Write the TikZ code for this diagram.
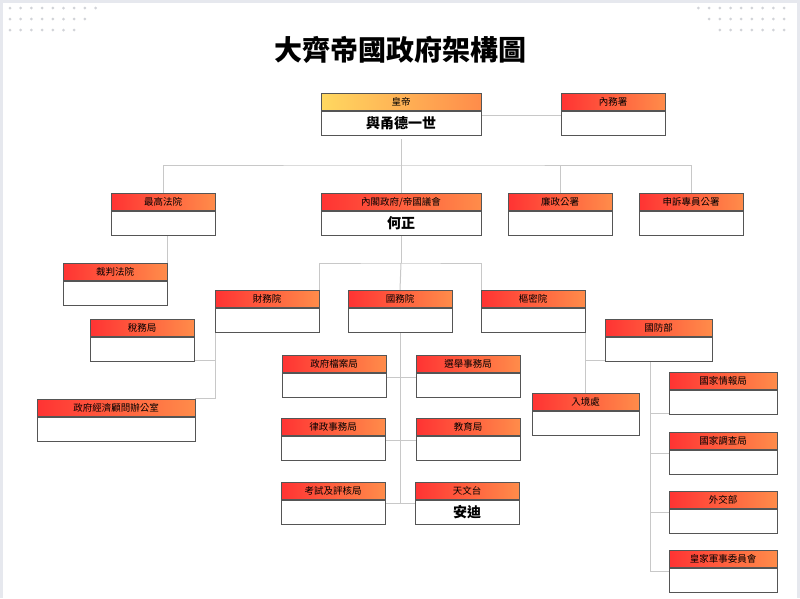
\documentclass[tikz,border=0pt]{standalone}
\usepackage{fontspec}
\newfontfamily\cjk{Noto Sans CJK TC}
\usetikzlibrary{positioning}
\definecolor{hdrred}{HTML}{FF3333}
\definecolor{hdrorange}{HTML}{FF8C4A}
\definecolor{hdryellow}{HTML}{FFD860}
\definecolor{boxline}{HTML}{555555}
\definecolor{wire}{HTML}{C8C8C8}
\definecolor{frame}{HTML}{E6E8EE}
\tikzset{
  hdr/.style={draw=boxline, line width=1pt, left color=hdrred, right color=hdrorange,
    minimum height=17pt, inner sep=0pt, font=\cjk\fontsize{9.5}{10}\selectfont},
  bdy/.style={draw=boxline, line width=1pt, fill=white,
    minimum height=24pt, inner sep=0pt, font=\cjk\bfseries\fontsize{14}{16}\selectfont},
  wire/.style={draw=wire, line width=1pt},
  dot/.style={fill=frame!80!gray}
}
% [header style] name, centre x, top y, width, title, body
\newcommand\orgbox[7][]{%
  \node[hdr, #1, minimum width=#5pt, anchor=north] (#2) at (#3,#4) {#6};
  \node[bdy, minimum width=#5pt, below=0pt of #2] (#2b) {#7};}
\begin{document}
\begin{tikzpicture}[x=1pt,y=-1pt]
  \useasboundingbox (0,0) rectangle (800,598);
  \fill[frame] (0,0) rectangle (800,598);
  \fill[white] (3,3) rectangle (797,598);
  % corner dots
  \foreach \n [count=\r] in {9,8,7} {
    \foreach \i in {1,...,\n} {
      \fill[dot] ({10+(\i-1)*10.7},{-3+\r*11}) circle (1.5);
      \fill[dot] ({784-(\i-1)*10.7},{-3+\r*11}) circle (1.5);
    }
  }
  \node[font=\cjk\bfseries\fontsize{28}{32}\selectfont] (title) at (400,50) {大齊帝國政府架構圖};

  % connectors
  \coordinate (j1) at (401,165);
  \coordinate (j2) at (401,263);
  \coordinate (j3) at (400,503);
  \coordinate (j4) at (650,571);
  \draw[wire] (401,139) -- (401,193);
  \draw[wire] (163,193) |- (j1) -| (691,193);
  \draw[wire] (560,193) -- (560,165);
  \draw[wire] (481,115) -- (561,115);
  \draw[wire] (167,236) -- (167,263);
  \draw[wire] (401,236) -- (j2);
  \draw[wire] (319,290) |- (j2) -| (481,290);
  \draw[wire] (j2) -- (400,290);
  \draw[wire] (215,333) |- (195,398);
  \draw[wire] (194,360) -- (215,360);
  \draw[wire] (400,333) -- (j3) -- (415,503);
  \draw[wire] (385,503) -- (j3);
  \draw[wire] (386,377) -- (416,377);
  \draw[wire] (385,440) -- (416,440);
  \draw[wire] (585,333) -- (585,393);
  \draw[wire] (585,360) -- (605,360);
  \draw[wire] (650,360) -- (j4) -- (669,571);
  \draw[wire] (650,413) -- (669,413);
  \draw[wire] (650,453) -- (669,453);
  \draw[wire] (650,512) -- (669,512);

  \orgbox[left color=hdryellow]{emp}{401}{93}{160}{皇帝}{與甬德一世}
  \orgbox{home}{613}{93}{104}{內務署}{}
  \orgbox{sup}{163}{193}{104}{最高法院}{}
  \orgbox{cab}{401}{193}{160}{內閣政府/帝國議會}{何正}
  \orgbox{icac}{560}{193}{104}{廉政公署}{}
  \orgbox{omb}{691}{193}{104}{申訴專員公署}{}
  \orgbox{mag}{115}{263}{104}{裁判法院}{}
  \orgbox{fin}{267}{290}{104}{財務院}{}
  \orgbox{state}{400}{290}{104}{國務院}{}
  \orgbox{priv}{533}{290}{104}{樞密院}{}
  \orgbox{def}{658.5}{319}{107}{國防部}{}
  \orgbox{tax}{142}{319}{104}{稅務局}{}
  \orgbox{eco}{116}{399}{158}{政府經濟顧問辦公室}{}
  \orgbox{arch}{334}{355}{104}{政府檔案局}{}
  \orgbox{elec}{468}{355}{104}{選舉事務局}{}
  \orgbox{law}{333}{418}{104}{律政事務局}{}
  \orgbox{edu}{468}{418}{104}{教育局}{}
  \orgbox{exam}{333}{482}{104}{考試及評核局}{}
  \orgbox{obs}{467}{482}{104}{天文台}{安迪}
  \orgbox{imm}{585.5}{393}{107}{入境處}{}
  \orgbox{intel}{723}{372}{108}{國家情報局}{}
  \orgbox{inv}{723}{432}{108}{國家調查局}{}
  \orgbox{fa}{723}{491}{108}{外交部}{}
  \orgbox{mil}{723}{550}{108}{皇家軍事委員會}{}
\end{tikzpicture}
\end{document}
